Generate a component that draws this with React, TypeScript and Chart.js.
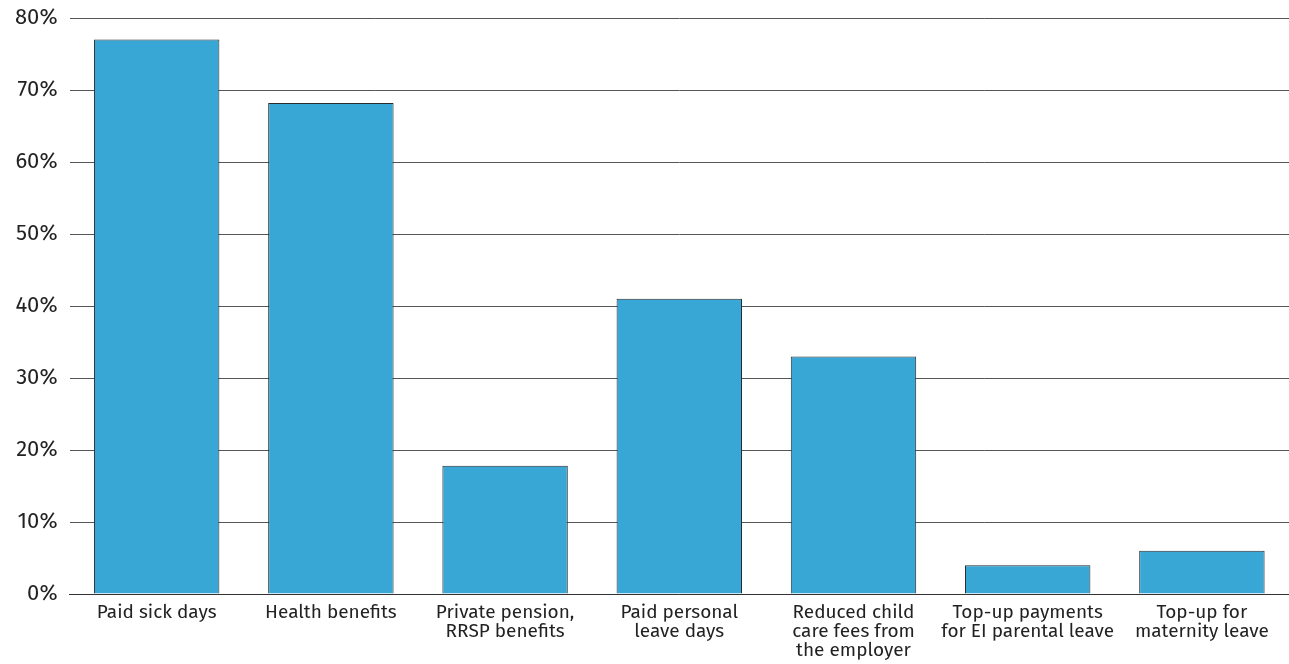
import React, { useEffect, useRef } from "react";
import { Chart, registerables } from "chart.js";

Chart.register(...registerables);

const categories: string[][] = [
  ["Paid sick days"],
  ["Health benefits"],
  ["Private pension,", "RRSP benefits"],
  ["Paid personal", "leave days"],
  ["Reduced child", "care fees from", "the employer"],
  ["Top-up payments", "for EI parental leave"],
  ["Top-up for", "maternity leave"],
];
const values: number[] = [77, 68.2, 17.8, 41, 33, 4, 6];
const yTicks: number[] = [0, 10, 20, 30, 40, 50, 60, 70, 80];

export default function App() {
  const ref = useRef<HTMLCanvasElement | null>(null);
  useEffect(() => {
    document.body.style.margin = "0";
    const ctx = ref.current!.getContext("2d")!;
    const chart = new Chart(ctx, {
      type: "bar",
      data: {
        labels: categories,
        datasets: [
          {
            data: values,
            backgroundColor: "#38a7d5",
            borderColor: "#2b2b2b",
            borderWidth: 1,
            barPercentage: 0.72,
            categoryPercentage: 1,
          },
        ],
      },
      options: {
        animation: false,
        responsive: false,
        maintainAspectRatio: false,
        layout: { padding: { top: 18, right: 0, left: 3, bottom: 3 } },
        plugins: { legend: { display: false }, tooltip: { enabled: false } },
        scales: {
          x: {
            grid: { display: false },
            border: { display: true, color: "#333", width: 1 },
            ticks: {
              color: "#222",
              font: { family: "'Fira Sans', 'Open Sans', sans-serif", size: 19, lineHeight: 1.0 },
              maxRotation: 0,
              autoSkip: false,
              padding: 1,
            },
          },
          y: {
            min: 0,
            max: 80,
            afterBuildTicks: (axis: any) => {
              axis.ticks = yTicks.map((v) => ({ value: v }));
            },
            grid: { color: "#555", lineWidth: 1, drawTicks: false },
            border: { display: false },
            ticks: {
              color: "#222",
              font: { family: "'Fira Sans', 'Open Sans', sans-serif", size: 22, lineHeight: 0.4 },
              padding: 12,
              callback: (v: any) => v + "%",
            },
          },
        },
      },
    });
    return () => chart.destroy();
  }, []);
  return (
    <div style={{ width: 1289, height: 664 }}>
      <canvas ref={ref} width={1289} height={664} style={{ display: "block" }} />
    </div>
  );
}
